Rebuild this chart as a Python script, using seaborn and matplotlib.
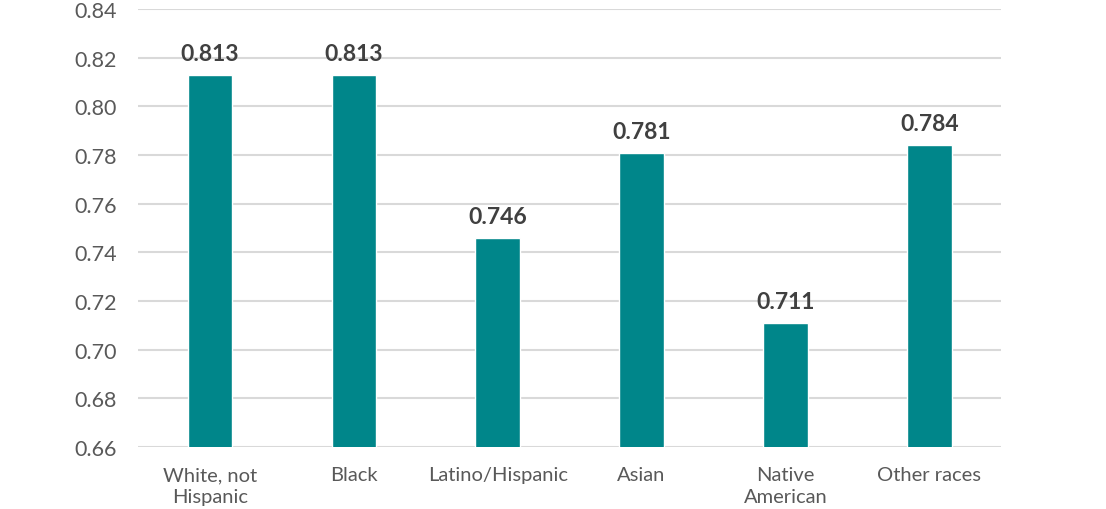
import matplotlib
matplotlib.use("Agg")
import matplotlib.pyplot as plt
import numpy as np
import seaborn as sns

categories = ["White, not\nHispanic", "Black", "Latino/Hispanic", "Asian", "Native\nAmerican", "Other races"]
values = [0.813, 0.813, 0.746, 0.781, 0.711, 0.784]
value_labels = ["0.813", "0.813", "0.746", "0.781", "0.711", "0.784"]

sns.set_style("white")
plt.rcParams['font.family'] = ['Lato', 'DejaVu Sans']

fig = plt.figure(figsize=(11.06, 5.10), dpi=100)
ax = fig.add_axes([0.1248, 0.1216, 0.7805, 0.8588])

sns.barplot(x=categories, y=values, color="#00868A", width=0.31, saturation=1, ax=ax, zorder=3)

ax.set_ylim(0.66, 0.84)
yt = np.arange(0.66, 0.8401, 0.02)
ax.set_yticks(yt)
ax.set_yticklabels([f"{t:.2f}" for t in yt], fontsize=15.5)
ax.yaxis.grid(True, color="#D9D9D9", linewidth=1.5, zorder=0)
ax.set_axisbelow(True)
for s in ax.spines.values():
    s.set_visible(False)
ax.tick_params(axis="both", length=0, labelcolor="#595959")
ax.tick_params(axis="x", labelsize=14.5, pad=14)
ax.tick_params(axis="y", pad=15)
for lbl in ax.get_xticklabels():
    lbl.set_linespacing(1.35)
ax.set_xlabel("")
ax.set_ylabel("")

for i, (v, lab) in enumerate(zip(values, value_labels)):
    ax.text(i, v + 0.0045, lab, ha="center", va="bottom", fontsize=16.5,
            fontweight="bold", color="#404040")

fig.savefig("out.png", dpi=100)
